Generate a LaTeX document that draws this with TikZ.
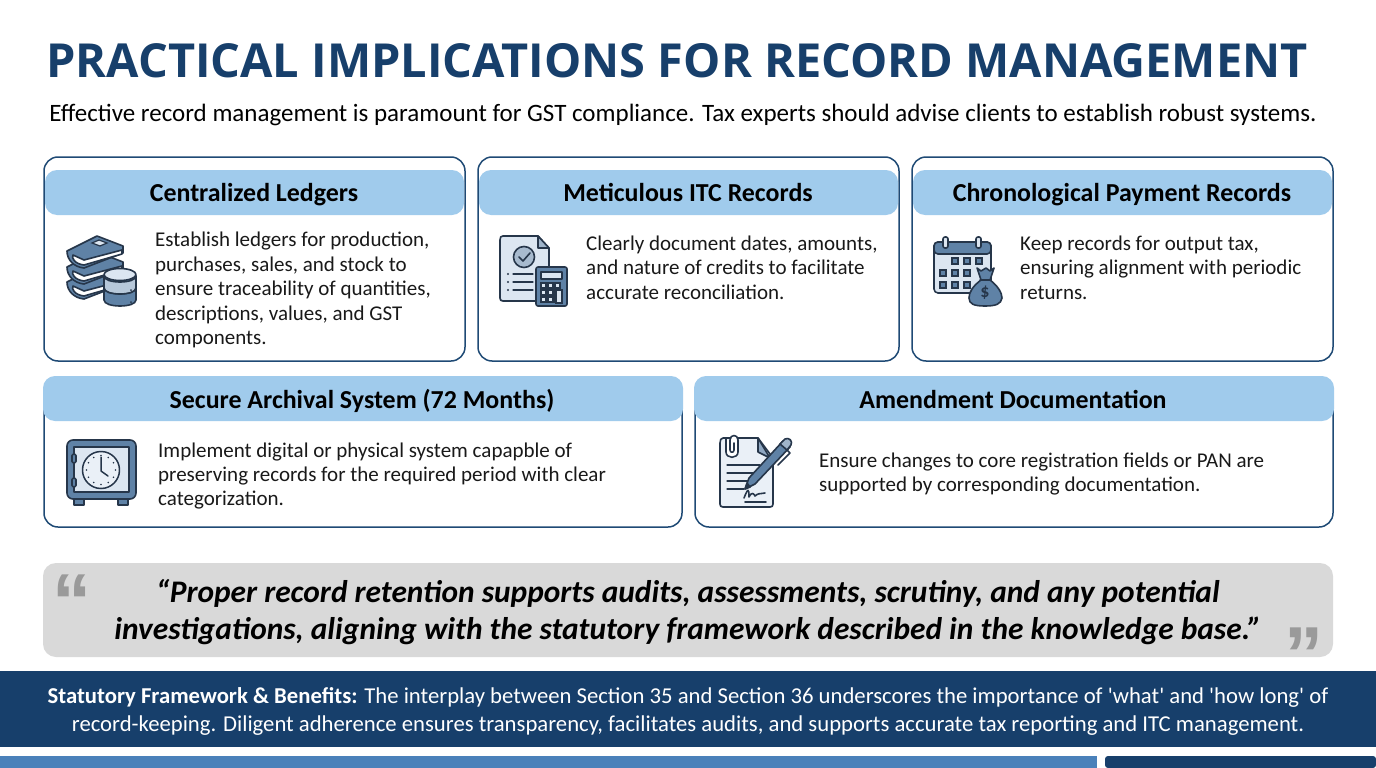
\documentclass[tikz,border=0pt]{standalone}
\usepackage{fontspec}
\setmainfont{Carlito}
\newfontfamily\titlefont{Open Sans}
\newfontfamily\markfont{Liberation Sans}
\definecolor{navy}{HTML}{173F6B}
\definecolor{cardline}{HTML}{1F4A75}
\definecolor{headblue}{HTML}{A0CBEC}
\definecolor{quotegray}{HTML}{D9D9D9}
\definecolor{markgray}{HTML}{9A9A9A}
\definecolor{stripblue}{HTML}{4A81BA}
\definecolor{iconline}{HTML}{26364A}
\definecolor{iconfill}{HTML}{5F82A6}
\definecolor{iconpale}{HTML}{DCE6F1}
\tikzset{
  card/.style={draw=cardline, line width=1.5pt, fill=white, rounded corners=14pt},
  headband/.style={fill=headblue, rounded corners=12pt},
  headtext/.style={font=\fontsize{25.9}{28}\selectfont\bfseries, text=black, inner sep=0pt, anchor=base},
  bodytext/.style={font=\fontsize{21}{24.4}\selectfont, align=left, anchor=west, inner sep=0pt, text=black!90},
  marktext/.style={inner sep=0pt, text=markgray, anchor=base, font=\markfont\fontsize{78}{78}\selectfont\bfseries},
  ic/.style={draw=iconline, line width=1.6pt, line join=round, line cap=round},
  icfine/.style={draw=iconline, line width=1.2pt, line cap=round},
}
\begin{document}
\begin{tikzpicture}[x=1pt,y=-1pt]
 \useasboundingbox (0,0) rectangle (1376,768);
 \fill[white] (0,0) rectangle (1376,768);

 % title
 \node[anchor=center, inner sep=0pt, text=navy, font=\titlefont\fontsize{46.9}{50}\selectfont\bfseries] (title) at (677,61) {PRACTICAL IMPLICATIONS FOR RECORD MANAGEMENT};
 \node[anchor=center, inner sep=0pt, font=\fontsize{25}{28}\selectfont, text=black] (subtitle) at (683,115) {Effective record management is paramount for GST compliance. Tax experts should advise clients to establish robust systems.};

 % cards
 \draw[card] (44,157) rectangle (465,361);
 \draw[card] (478,157) rectangle (899,361);
 \draw[card] (912,157) rectangle (1333,361);
 \draw[card] (44,377) rectangle (682,527);
 \draw[card] (695,377) rectangle (1333,527);

 \fill[headband] (45,170) rectangle (464,215);
 \fill[headband] (479,170) rectangle (898,215);
 \fill[headband] (913,170) rectangle (1332,215);
 \fill[headband] (43,376) rectangle (683,421);
 \fill[headband] (694,376) rectangle (1334,421);

 \node[headtext] (headledger) at (254,201) {Centralized Ledgers};
 \node[headtext] (headitc) at (688,201) {Meticulous ITC Records};
 \node[headtext] (headpay) at (1122,201) {Chronological Payment Records};
 \node[headtext] (headsafe) at (362,408) {Secure Archival System (72 Months)};
 \node[headtext] (headamend) at (1013,408) {Amendment Documentation};

 \node[bodytext] (bodyledger) at (155,290) {Establish ledgers for production,\\purchases, sales, and stock to\\ensure traceability of quantities,\\descriptions, values, and GST\\components.};
 \node[bodytext] (bodyitc) at (586,267.5) {Clearly document dates, amounts,\\and nature of credits to facilitate\\accurate reconciliation.};
 \node[bodytext] (bodypay) at (1020,267.5) {Keep records for output tax,\\ensuring alignment with periodic\\returns.};
 \node[bodytext] (bodysafe) at (158,476) {Implement digital or physical system capapble of\\preserving records for the required period with clear\\categorization.};
 \node[bodytext] (bodyamend) at (819,474) {Ensure changes to core registration fields or PAN are\\supported by corresponding documentation.};

 % icon books and database
 \foreach \yy in {31,16,0} {
   \draw[ic, fill=iconfill] (67,\yy+251) -- (97,\yy+236) -- (123,\yy+246) -- (123,\yy+253) -- (84,\yy+268) .. controls (74,\yy+267) and (67,\yy+260) .. (67,\yy+251) -- cycle;
   \draw[ic, fill=white] (122,\yy+250) -- (84,\yy+260) -- (73,\yy+255) .. controls (71,\yy+258) and (75,\yy+264) .. (84,\yy+265) -- (122,\yy+254) -- cycle;
 }
 \draw[icfine, fill=iconpale] (92,243) -- (99,240) -- (107,243) -- (100,246) -- cycle;
 \draw[ic, fill=iconfill] (104,276) -- (104,300) .. controls (104,308) and (136,308) .. (136,300) -- (136,276) -- cycle;
 \draw[ic, fill=iconpale!70!iconfill] (104,276) .. controls (104,284) and (136,284) .. (136,276) -- (136,288) .. controls (136,296) and (104,296) .. (104,288) -- cycle;
 \draw[ic, fill=iconpale] (120,274.5) ellipse (16 and 6);
 \draw[icfine] (104,288) .. controls (104,296) and (136,296) .. (136,288);
 \fill[iconline] (131,290) circle (1) (131,302) circle (1);

 % icon document and calculator
 \draw[ic, fill=iconpale] (500,240) .. controls (500,237) and (501,236) .. (503,236) -- (538,236) -- (549,248) -- (549,290) -- (538,301) -- (503,301) .. controls (501,301) and (500,300) .. (500,298) -- cycle;
 \draw[ic, fill=iconfill!60] (538,236) -- (538,248) -- (549,248) -- cycle;
 \draw[ic, fill=iconfill!55] (524,257) circle (10.5);
 \draw[ic] (519,257) -- (523,261) -- (530,253);
 \foreach \yy in {274,282,290} {
   \fill[iconline] (508,\yy) circle (1.2);
   \draw[icfine] (513,\yy) -- (533,\yy);
 }
 \draw[ic, fill=iconfill, rounded corners=2pt] (536,267) rectangle (567,306);
 \draw[ic, fill=iconpale] (541,272) rectangle (562,279);
 \foreach \xx in {541,548,555} \foreach \yy in {283,290,297} {
   \draw[icfine, fill=iconpale] (\xx,\yy) rectangle ++(5,5);
 }
 \draw[icfine, fill=iconpale] (556,290) rectangle (562,303);

 % icon calendar and money bag
 \draw[ic, fill=iconpale, rounded corners=4pt] (934,242) rectangle (991,293);
 \draw[ic, fill=iconfill, rounded corners=4pt] (934,242) -- (991,242) -- (991,254) -- (934,254) -- cycle;
 \foreach \xx in {945,978} {
   \draw[ic, fill=iconpale, rounded corners=2pt] (\xx-2,237) rectangle (\xx+3,248);
 }
 \foreach \xx/\yy in {952/258,964/258,976/258,940/270,952/270,964/270,940/282,952/282,964/282} {
   \draw[icfine, fill=iconfill] (\xx,\yy) rectangle ++(6,6);
 }
 \draw[ic, fill=iconfill] (977,268) -- (981,271) -- (986,268) -- (990,271) -- (994,268) -- (990,280) .. controls (998,286) and (1002,293) .. (1002,298) .. controls (1001,304) and (996,306) .. (985,306) .. controls (974,306) and (969,304) .. (969,298) .. controls (969,292) and (973,286) .. (981,280) -- cycle;
 \draw[icfine] (980,280) -- (991,280);
 \node[inner sep=0pt, text=iconline, font=\fontsize{18}{18}\selectfont\bfseries] (bagmark) at (985,293) {\$};

 % icon safe and clock
 \draw[ic, fill=iconfill] (74,498) rectangle (84,505);
 \draw[ic, fill=iconfill] (118,498) rectangle (128,505);
 \draw[ic, fill=iconfill, rounded corners=6pt] (67,440) rectangle (136,499);
 \draw[ic, fill=iconpale] (74,447) rectangle (129,492);
 \draw[ic, fill=iconfill, rounded corners=1.5pt] (72,454) rectangle (76,463);
 \draw[ic, fill=iconfill, rounded corners=1.5pt] (72,478) rectangle (76,487);
 \draw[ic, fill=iconpale!60!white, line width=1.5pt] (101,470) circle (18.5);
 \foreach \ang in {0,30,...,330} {
   \fill[iconline] (101,470) ++(\ang:14.5) circle (0.9);
 }
 \draw[ic, line width=1.5pt] (101,457) -- (101,471) -- (108,476);

 % icon note and pen
 \draw[ic, fill=iconpale!60] (720,443) -- (720,504) .. controls (720,506) and (721,507) .. (723,507) -- (770,507) .. controls (772,507) and (773,506) .. (773,504) -- (773,458) -- (758,438) -- (723,438) .. controls (721,438) and (720,440) .. (720,443) -- cycle;
 \draw[ic, fill=iconfill!70] (758,438) -- (758,452) -- (770,458) -- cycle;
 \draw[ic, fill=white] (726,439) -- (726,452) .. controls (726,459) and (738,459) .. (738,452) -- (738,440) .. controls (738,434) and (730,434) .. (730,440) -- (730,450) .. controls (730,453) and (734,453) .. (734,450) -- (734,443);
 \foreach \yy/\xb in {465/760,473/756,481/750,489/744} {
   \draw[icfine, line width=1.2pt] (727,\yy) -- (\xb,\yy);
 }
 \draw[ic] (744,498) .. controls (748,488) and (749,488) .. (749,497) .. controls (752,491) and (754,494) .. (755,496) .. controls (758,493) and (760,494) .. (765,493);
 \draw[ic] (745,502) -- (766,502);
 \draw[ic, fill=iconfill] (745,489) -- (749,478) -- (783,441) -- (790,447) -- (755,484) -- cycle;
 \draw[ic, fill=iconline] (745,489) -- (747,483) -- (750,487) -- cycle;
 \draw[ic, fill=iconfill!60] (780,444) -- (785,439) .. controls (789,437) and (793,441) .. (791,445) -- (787,450) -- cycle;
 \draw[ic] (787,450) -- (790,453) -- (778,465);

 % quote
 \fill[quotegray, rounded corners=13pt] (43,563) rectangle (1333,657);
 \node[inner sep=0pt, align=center, text=black, font=\fontsize{31.4}{37}\selectfont\bfseries\itshape] (quote) at (688,612) {“Proper record retention supports audits, assessments, scrutiny, and any potential\\investigations, aligning with the statutory framework described in the knowledge base.”};
 \node[marktext] (openmark) at (72,595) {\raisebox{-33pt}[23pt][0pt]{“}};
 \node[marktext] (closemark) at (1304,648) {\raisebox{-33pt}[23pt][0pt]{”}};

 % footer
 \fill[navy] (0,671) rectangle (1376,747);
 \node[inner sep=0pt, align=center, text=white, font=\fontsize{22.7}{28}\selectfont] (footer) at (688,711) {\textbf{Statutory Framework \& Benefits:} The interplay between Section 35 and Section 36 underscores the importance of \textquotesingle what\textquotesingle{} and \textquotesingle how long\textquotesingle{} of\\record-keeping. Diligent adherence ensures transparency, facilitates audits, and supports accurate tax reporting and ITC management.};

 % bottom strip
 \fill[stripblue] (0,756) rectangle (1097,768);
 \fill[navy, rounded corners=3pt] (1105,756) -- (1376,756) -- (1376,768) -- (1105,768) -- cycle;
\end{tikzpicture}
\end{document}
